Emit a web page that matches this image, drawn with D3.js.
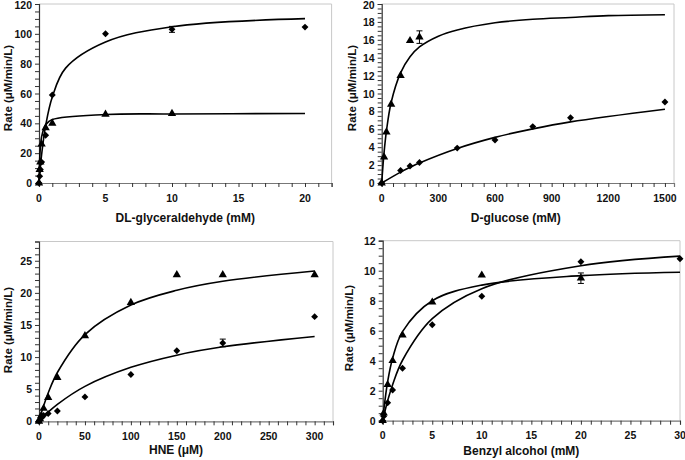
<!DOCTYPE html>
<html><head><meta charset="utf-8">
<script src="https://cdn.jsdelivr.net/npm/d3@7"></script>
<style>
body{margin:0;background:#fff;}
svg{display:block;font-family:"Liberation Sans",Arial,sans-serif;font-weight:bold;}
</style></head>
<body><svg id="c" width="685" height="460"></svg>
<script>
// ---------- Panel A: DL-glyceraldehyde ----------
const aDiaX = [0, 0.05, 0.1, 0.2, 0.5, 1, 5, 10, 20];
const aDiaY = [0, 4.5, 9, 14, 32, 59, 100, 103, 104.5];
const aDiaErr = [0, 0, 0, 0, 0, 0, 0, 2, 0];
const aTriX = [0, 0.05, 0.1, 0.2, 0.5, 1, 5, 10];
const aTriY = [0, 9, 14, 26, 37, 40, 46, 46.5];
const aFitDiaX = [0, 0.05, 0.1, 0.2, 0.5, 1, 2, 5, 10, 20];
const aFitDiaY = [0, 5.5, 10.5, 19.3, 38.5, 57.7, 77, 94.5, 104.8, 110.2];
const aFitTriX = [0, 0.05, 0.1, 0.2, 0.5, 1, 5, 10, 20];
const aFitTriY = [0, 15.6, 23.4, 31.2, 39, 42.5, 45.9, 46.3, 46.6];
const aXTicks = [0, 5, 10, 15, 20];
const aYTicks = [0, 20, 40, 60, 80, 100, 120];

// ---------- Panel B: D-glucose ----------
const bTriX = [0, 12.5, 25, 50, 100, 150, 200];
const bTriY = [0, 2.9, 5.7, 8.8, 12, 15.9, 16.3];
const bTriErr = [0, 0, 0, 0, 0, 0, 0.7];
const bDiaX = [0, 100, 150, 200, 400, 600, 800, 1000, 1500];
const bDiaY = [0, 1.4, 1.9, 2.3, 3.9, 4.8, 6.3, 7.3, 9.05];
const bFitTriX = [0, 12.5, 25, 50, 100, 150, 200, 300, 400, 600, 800, 1000, 1200, 1500];
const bFitTriY = [0, 3.4, 5.8, 9.0, 12.3, 14.1, 15.2, 16.4, 17.1, 17.9, 18.3, 18.5, 18.7, 18.8];
const bFitDiaX = [0, 100, 150, 200, 400, 600, 800, 1000, 1500];
const bFitDiaY = [0, 1.22, 1.75, 2.24, 3.86, 5.1, 6.05, 6.83, 8.24];
const bXTicks = [0, 300, 600, 900, 1200, 1500];
const bYTicks = [0, 2, 4, 6, 8, 10, 12, 14, 16, 18, 20];

// ---------- Panel C: HNE ----------
const cTriX = [0, 1, 2.5, 5, 10, 20, 50, 100, 150, 200, 300];
const cTriY = [0, 0.4, 0.9, 2, 3.7, 6.8, 13.3, 18.5, 22.8, 22.8, 22.8];
const cDiaX = [0, 1, 2.5, 5, 10, 20, 50, 100, 150, 200, 300];
const cDiaY = [0, 0.2, 0.5, 0.9, 1.2, 1.6, 3.8, 7.3, 11, 12.2, 16.3];
const cDiaErr = [0, 0, 0, 0, 0, 0, 0, 0, 0, 0.6, 0];
const cFitTriX = [0, 1, 2.5, 5, 10, 20, 50, 100, 150, 200, 300];
const cFitTriY = [0, 0.5, 1.3, 2.4, 4.4, 7.6, 13.5, 18.1, 20.4, 21.8, 23.4];
const cFitDiaX = [0, 1, 2.5, 5, 10, 20, 50, 100, 150, 200, 300];
const cFitDiaY = [0, 0.15, 0.38, 0.74, 1.42, 2.64, 5.44, 8.4, 10.3, 11.6, 13.2];
const cXTicks = [0, 50, 100, 150, 200, 250, 300];
const cYTicks = [0, 5, 10, 15, 20, 25];

// ---------- Panel D: Benzyl alcohol ----------
const dTriX = [0, 0.1, 0.5, 1, 2, 5, 10, 20];
const dTriY = [0, 0.5, 2.4, 4.0, 5.7, 7.9, 9.7, 9.5];
const dTriErr = [0, 0, 0, 0, 0, 0, 0, 0.35];
const dDiaX = [0, 0.1, 0.5, 1, 2, 5, 10, 20, 30];
const dDiaY = [0, 0.3, 1.2, 2.05, 3.5, 6.4, 8.3, 10.6, 10.8];
const dFitTriX = [0, 0.1, 0.5, 1, 2, 5, 10, 20, 30];
const dFitTriY = [0, 0.65, 2.6, 4.16, 5.94, 8.0, 9.04, 9.67, 9.9];
const dFitDiaX = [0, 0.1, 0.5, 1, 2, 5, 10, 20, 30];
const dFitDiaY = [0, 0.29, 1.33, 2.4, 4.03, 6.8, 8.8, 10.33, 10.97];
const dXTicks = [0, 5, 10, 15, 20, 25, 30];
const dYTicks = [0, 2, 4, 6, 8, 10, 12];

const svg = d3.select("#c");

function panel(o) {
  const x = d3.scaleLinear().domain(o.xd).range(o.xr);
  const y = d3.scaleLinear().domain(o.yd).range(o.yr);
  const g = svg.append("g");
  g.append("path")
    .attr("d", `M${o.xr[0]},${o.yr[1]}H${o.xr[1]}V${o.yr[0]}`)
    .attr("fill", "none").attr("stroke", "#c8c8c8").attr("stroke-width", 1);
  const xMinor = d3.range(o.xd[0], o.xd[1] + 1e-9, o.xMinor);
  const xa = d3.axisBottom(x).tickValues(xMinor).tickSize(4).tickFormat("");
  g.append("g").attr("transform", `translate(0,${o.yr[0]})`).call(xa)
    .call(s => { s.select(".domain").attr("stroke", "#777").attr("stroke-width", 1.2); s.selectAll(".tick line").attr("stroke", "#333"); });
  g.append("g").selectAll("text").data(o.xTicks).join("text")
    .attr("x", d => x(d)).attr("y", o.yr[0] + 18.5)
    .attr("text-anchor", "middle").attr("font-size", 10.5).attr("fill", "#111").text(d => d);
  const yMinor = d3.range(o.yd[0], o.yTop + 1e-9, o.yMinor);
  const ya = d3.axisLeft(y).tickValues(yMinor).tickSize(4).tickFormat("");
  g.append("g").attr("transform", `translate(${o.xr[0]},0)`).call(ya)
    .call(s => { s.select(".domain").attr("stroke", "#333").attr("stroke-width", 1.2); s.selectAll(".tick line").attr("stroke", "#333"); });
  g.append("g").selectAll("text").data(o.yTicks).join("text")
    .attr("x", o.xr[0] - 7).attr("y", d => Math.max(y(d) + 4, 8.5))
    .attr("text-anchor", "end").attr("font-size", 10.5).attr("fill", "#111").text(d => d);
  g.append("text").attr("x", (o.xr[0] + o.xr[1]) / 2 + o.titleDx).attr("y", o.yr[0] + o.titleDy)
    .attr("text-anchor", "middle").attr("font-size", 12).attr("fill", "#111").text(o.xTitle);
  g.append("text").attr("transform", `translate(${o.yLabX},${o.yLabY}) rotate(-90)`)
    .attr("text-anchor", "middle").attr("font-size", 11.5).attr("fill", "#111").text("Rate (μM/min/L)");
  const line = d3.line().x(d => x(d[0])).y(d => y(d[1])).curve(d3.curveCatmullRom.alpha(0.5));
  o.fits.forEach(f => {
    g.append("path").attr("d", line(d3.zip(f[0], f[1])))
      .attr("fill", "none").attr("stroke", "#000").attr("stroke-width", 1.6);
  });
  o.series.forEach(s => {
    const pts = s.x.map((v, i) => ({x: v, y: s.y[i], e: s.e ? s.e[i] : 0}));
    const eb = pts.filter(p => p.e > 0);
    g.append("g").selectAll("path").data(eb).join("path")
      .attr("d", p => `M${x(p.x)},${y(p.y - p.e)}V${y(p.y + p.e)}M${x(p.x) - 3},${y(p.y + p.e)}h6M${x(p.x) - 3},${y(p.y - p.e)}h6`)
      .attr("stroke", "#000").attr("stroke-width", 1).attr("fill", "none");
    const isTri = s.type === "tri";
    const sym = d3.symbol().type(isTri ? d3.symbolTriangle : d3.symbolSquare).size(isTri ? 30 : 24);
    g.append("g").selectAll("path").data(pts).join("path")
      .attr("transform", p => `translate(${x(p.x)},${y(p.y)})` + (isTri ? "" : " rotate(45)"))
      .attr("d", sym()).attr("fill", "#000");
  });
}

panel({xd: [0, 22], xr: [39, 331.6], yd: [0, 120], yr: [183, 4], yTop: 120,
  xMinor: 1, yMinor: 5, xTicks: aXTicks, yTicks: aYTicks,
  xTitle: "DL-glyceraldehyde (mM)", titleDx: 0, titleDy: 38.5, yLabX: 12, yLabY: 88,
  fits: [[aFitDiaX, aFitDiaY], [aFitTriX, aFitTriY]],
  series: [{x: aTriX, y: aTriY, type: "tri"}, {x: aDiaX, y: aDiaY, e: aDiaErr, type: "dia"}]});

panel({xd: [0, 1548], xr: [381.7, 674], yd: [0, 20], yr: [183, 4], yTop: 20,
  xMinor: 60, yMinor: 0.5, xTicks: bXTicks, yTicks: bYTicks,
  xTitle: "D-glucose (mM)", titleDx: -12, titleDy: 39, yLabX: 356, yLabY: 88,
  fits: [[bFitTriX, bFitTriY], [bFitDiaX, bFitDiaY]],
  series: [{x: bTriX, y: bTriY, e: bTriErr, type: "tri"}, {x: bDiaX, y: bDiaY, type: "dia"}]});

panel({xd: [0, 320], xr: [39, 333], yd: [0, 28], yr: [421.3, 241.5], yTop: 28,
  xMinor: 10, yMinor: 1, xTicks: cXTicks, yTicks: cYTicks,
  xTitle: "HNE (μM)", titleDx: -10, titleDy: 33, yLabX: 12, yLabY: 330,
  fits: [[cFitTriX, cFitTriY], [cFitDiaX, cFitDiaY]],
  series: [{x: cTriX, y: cTriY, type: "tri"}, {x: cDiaX, y: cDiaY, e: cDiaErr, type: "dia"}]});

panel({xd: [0, 30], xr: [382.7, 680], yd: [0, 12], yr: [420.7, 240.7], yTop: 12,
  xMinor: 1, yMinor: 0.5, xTicks: dXTicks, yTicks: dYTicks,
  xTitle: "Benzyl alcohol (mM)", titleDx: -10, titleDy: 34.5, yLabX: 353, yLabY: 328,
  fits: [[dFitTriX, dFitTriY], [dFitDiaX, dFitDiaY]],
  series: [{x: dTriX, y: dTriY, e: dTriErr, type: "tri"}, {x: dDiaX, y: dDiaY, type: "dia"}]});
</script></body></html>
